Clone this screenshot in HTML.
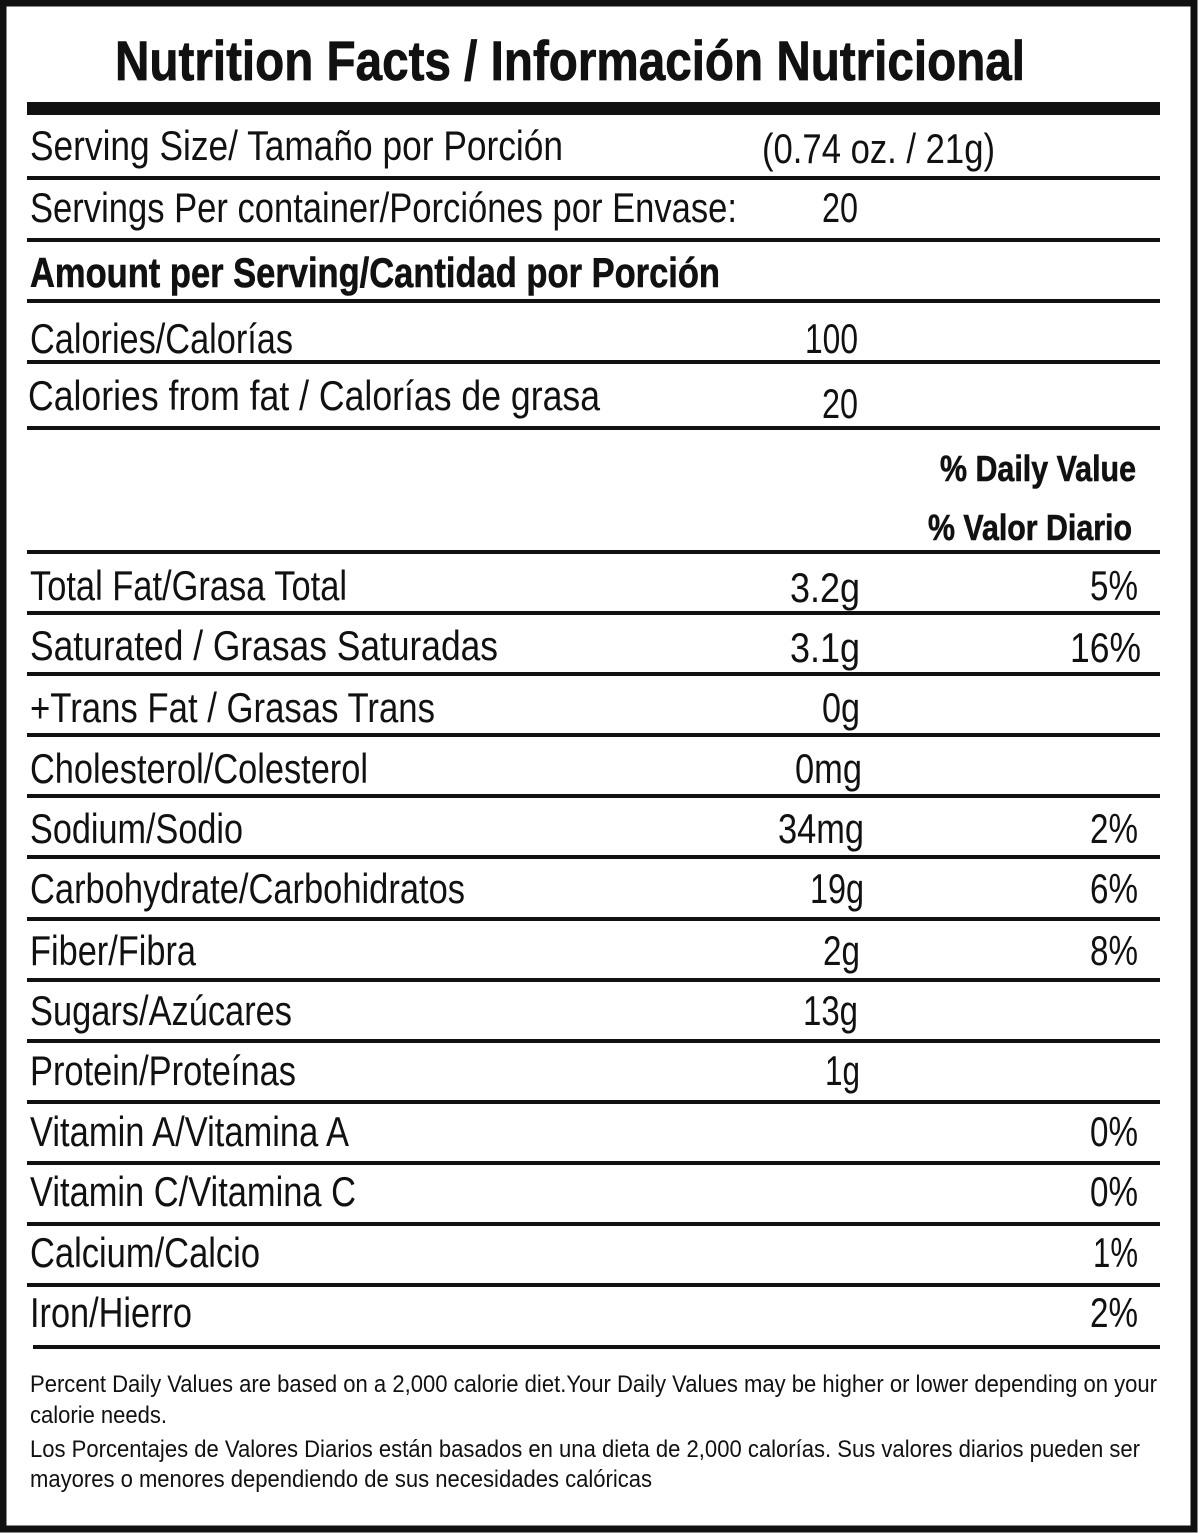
<!DOCTYPE html>
<html><head><meta charset="utf-8"><style>
html,body{margin:0;padding:0;background:#fff}
svg{display:block}
text{font-family:"Liberation Sans Narrow","Liberation Sans",sans-serif;fill:#111}
.b{font-weight:bold}
.f{font-family:"Liberation Sans",sans-serif}
</style></head><body>
<svg width="1200" height="1533" viewBox="0 0 1200 1533" xmlns="http://www.w3.org/2000/svg">
<rect x="3" y="3" width="1191" height="1526" fill="none" stroke="#111" stroke-width="7"/>
<text class="b" x="115" y="80" font-size="56" textLength="910" lengthAdjust="spacingAndGlyphs" stroke="#111" stroke-width="0.8">Nutrition Facts / Información Nutricional</text>
<rect x="27" y="102" width="1133" height="13" fill="#111"/>
<g fill="#111">
<rect x="27" y="176" width="1133" height="4"/>
<rect x="27" y="238" width="1133" height="4"/>
<rect x="27" y="299" width="1133" height="4"/>
<rect x="27" y="360" width="1133" height="4"/>
<rect x="27" y="426" width="1133" height="4"/>
<rect x="27" y="550" width="1133" height="4"/>
<rect x="27" y="611" width="1133" height="4"/>
<rect x="27" y="672" width="1133" height="4"/>
<rect x="27" y="733" width="1133" height="4"/>
<rect x="27" y="794" width="1133" height="4"/>
<rect x="27" y="855" width="1133" height="4"/>
<rect x="27" y="917" width="1133" height="4"/>
<rect x="27" y="978" width="1133" height="4"/>
<rect x="27" y="1039" width="1133" height="4"/>
<rect x="27" y="1100" width="1133" height="4"/>
<rect x="27" y="1161" width="1133" height="4"/>
<rect x="27" y="1222" width="1133" height="4"/>
<rect x="27" y="1283" width="1133" height="4"/>
<rect x="33" y="1345" width="1127" height="4"/>
</g>
<g font-size="42">
<text x="30" y="160" textLength="533" lengthAdjust="spacingAndGlyphs">Serving Size/ Tamaño por Porción</text>
<text x="762" y="163" textLength="233" lengthAdjust="spacingAndGlyphs">(0.74 oz. / 21g)</text>
<text x="30" y="222" textLength="707" lengthAdjust="spacingAndGlyphs">Servings Per container/Porciónes por Envase:</text>
<text x="822" y="222" textLength="36" lengthAdjust="spacingAndGlyphs">20</text>
<text class="b" x="30" y="287" textLength="690" lengthAdjust="spacingAndGlyphs" stroke="#111" stroke-width="0.6">Amount per Serving/Cantidad por Porción</text>
<text x="30" y="353" textLength="263" lengthAdjust="spacingAndGlyphs">Calories/Calorías</text>
<text x="805" y="353" textLength="53" lengthAdjust="spacingAndGlyphs">100</text>
<text x="28" y="410" textLength="572" lengthAdjust="spacingAndGlyphs">Calories from fat / Calorías de grasa</text>
<text x="822" y="418" textLength="36" lengthAdjust="spacingAndGlyphs">20</text>
</g>
<g font-size="36">
<text class="b" x="940" y="481" textLength="196" lengthAdjust="spacingAndGlyphs" stroke="#111" stroke-width="0.6">% Daily Value</text>
<text class="b" x="928" y="540" textLength="204" lengthAdjust="spacingAndGlyphs" stroke="#111" stroke-width="0.6">% Valor Diario</text>
</g>
<g font-size="42">
<text x="30" y="600" textLength="317" lengthAdjust="spacingAndGlyphs">Total Fat/Grasa Total</text>
<text x="790" y="602" textLength="70" lengthAdjust="spacingAndGlyphs">3.2g</text><text x="1090" y="600" textLength="48" lengthAdjust="spacingAndGlyphs">5%</text>
<text x="30" y="660" textLength="468" lengthAdjust="spacingAndGlyphs">Saturated / Grasas Saturadas</text>
<text x="790" y="662" textLength="70" lengthAdjust="spacingAndGlyphs">3.1g</text><text x="1070" y="662" textLength="71" lengthAdjust="spacingAndGlyphs">16%</text>
<text x="30" y="722" textLength="405" lengthAdjust="spacingAndGlyphs">+Trans Fat / Grasas Trans</text>
<text x="822" y="722" textLength="38" lengthAdjust="spacingAndGlyphs">0g</text>
<text x="30" y="783" textLength="338" lengthAdjust="spacingAndGlyphs">Cholesterol/Colesterol</text>
<text x="795" y="783" textLength="67" lengthAdjust="spacingAndGlyphs">0mg</text>
<text x="30" y="843" textLength="213" lengthAdjust="spacingAndGlyphs">Sodium/Sodio</text>
<text x="778" y="843" textLength="86" lengthAdjust="spacingAndGlyphs">34mg</text><text x="1090" y="843" textLength="48" lengthAdjust="spacingAndGlyphs">2%</text>
<text x="30" y="903" textLength="435" lengthAdjust="spacingAndGlyphs">Carbohydrate/Carbohidratos</text>
<text x="810" y="903" textLength="54" lengthAdjust="spacingAndGlyphs">19g</text><text x="1090" y="903" textLength="48" lengthAdjust="spacingAndGlyphs">6%</text>
<text x="30" y="965" textLength="166" lengthAdjust="spacingAndGlyphs">Fiber/Fibra</text>
<text x="823" y="965" textLength="37" lengthAdjust="spacingAndGlyphs">2g</text><text x="1090" y="965" textLength="48" lengthAdjust="spacingAndGlyphs">8%</text>
<text x="30" y="1025" textLength="262" lengthAdjust="spacingAndGlyphs">Sugars/Azúcares</text>
<text x="803" y="1025" textLength="55" lengthAdjust="spacingAndGlyphs">13g</text>
<text x="30" y="1085" textLength="266" lengthAdjust="spacingAndGlyphs">Protein/Proteínas</text>
<text x="825" y="1085" textLength="35" lengthAdjust="spacingAndGlyphs">1g</text>
<text x="30" y="1146" textLength="319" lengthAdjust="spacingAndGlyphs">Vitamin A/Vitamina A</text>
<text x="1090" y="1146" textLength="48" lengthAdjust="spacingAndGlyphs">0%</text>
<text x="30" y="1206" textLength="326" lengthAdjust="spacingAndGlyphs">Vitamin C/Vitamina C</text>
<text x="1090" y="1206" textLength="48" lengthAdjust="spacingAndGlyphs">0%</text>
<text x="30" y="1267" textLength="230" lengthAdjust="spacingAndGlyphs">Calcium/Calcio</text>
<text x="1093" y="1267" textLength="45" lengthAdjust="spacingAndGlyphs">1%</text>
<text x="30" y="1327" textLength="162" lengthAdjust="spacingAndGlyphs">Iron/Hierro</text>
<text x="1090" y="1327" textLength="48" lengthAdjust="spacingAndGlyphs">2%</text>
</g>
<g font-size="24" class="f">
<text class="f" x="30" y="1392" textLength="1127" lengthAdjust="spacingAndGlyphs">Percent Daily Values are based on a 2,000 calorie diet.Your Daily Values may be higher or lower depending on your</text>
<text class="f" x="30" y="1423" textLength="137" lengthAdjust="spacingAndGlyphs">calorie needs.</text>
<text class="f" x="30" y="1457" textLength="1110" lengthAdjust="spacingAndGlyphs">Los Porcentajes de Valores Diarios están basados en una dieta de 2,000 calorías. Sus valores diarios pueden ser</text>
<text class="f" x="30" y="1487" textLength="622" lengthAdjust="spacingAndGlyphs">mayores o menores dependiendo de sus necesidades calóricas</text>
</g>
</svg>
</body></html>
